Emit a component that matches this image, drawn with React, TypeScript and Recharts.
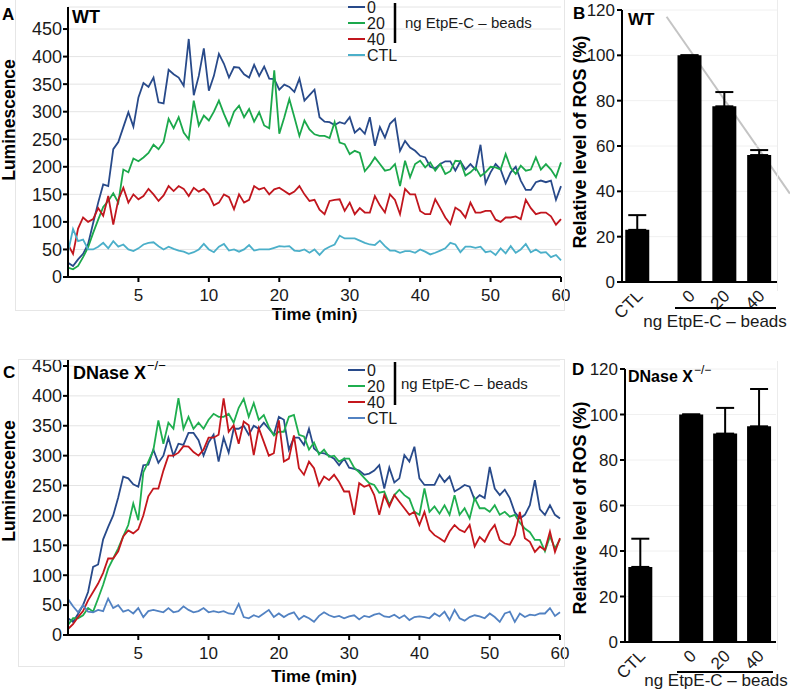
import React from 'react';
import {
  LineChart, Line, XAxis, YAxis, CartesianGrid,
  BarChart, Bar, ErrorBar, ReferenceLine, Label,
} from 'recharts';

// x axis: equal-width segments, each labelled by its end time (min)
const timeLabels = ['5', '10', '20', '30', '40', '50', '60'];
const stepsPerTick = 14;
const lumTicks = [0, 50, 100, 150, 200, 250, 300, 350, 400, 450];
const rosTicks = [0, 20, 40, 60, 80, 100, 120];
const seriesNames = ['0', '20', '40', 'CTL'];
const beadCats = ['CTL', '0', '20', '40'];

// A: WT luminescence
const wtZero = [
  26, 20, 32, 42, 60, 98, 135, 168, 165, 232, 245, 272, 299, 273, 326,
  352, 345, 362, 317, 315, 376, 368, 362, 347, 432, 330, 365, 415, 338,
  365, 405, 387, 362, 381, 380, 368, 362, 385, 365, 382, 360, 359, 340,
  349, 345, 336, 360, 320, 330, 340, 290, 282, 281, 276, 281, 278, 290,
  262, 270, 260, 290, 238, 272, 253, 278, 287, 229, 247, 235, 229, 220,
  217, 200, 197, 205, 210, 210, 193, 210, 195, 205, 195, 240, 170, 190,
  205, 195, 170, 190, 200, 175, 158, 158, 172, 175, 172, 175, 140, 165,
];
const wtTwenty = [
  17, 14, 20, 36, 54, 80, 104, 127, 138, 152, 135, 195, 190, 215, 210,
  217, 225, 240, 232, 245, 287, 270, 290, 262, 250, 320, 275, 293, 284,
  300, 320, 296, 275, 300, 311, 290, 305, 282, 299, 275, 270, 375, 260,
  290, 323, 290, 256, 284, 268, 259, 256, 256, 252, 281, 244, 241, 223,
  229, 225, 192, 203, 217, 205, 193, 195, 205, 165, 211, 181, 205, 211,
  199, 208, 193, 205, 187, 192, 211, 210, 184, 190, 199, 183, 190, 200,
  199, 195, 223, 198, 187, 202, 193, 195, 217, 195, 205, 195, 181, 208,
];
const wtForty = [
  59, 42, 88, 108, 100, 105, 125, 111, 147, 95, 140, 162, 135, 150, 141,
  147, 160, 150, 138, 148, 165, 156, 165, 160, 147, 162, 155, 160, 150,
  130, 135, 150, 145, 123, 150, 135, 140, 165, 159, 162, 150, 159, 162,
  156, 150, 155, 165, 150, 138, 140, 122, 114, 138, 140, 141, 120, 135,
  114, 125, 117, 117, 147, 130, 117, 150, 140, 114, 160, 150, 150, 120,
  114, 114, 141, 125, 108, 96, 126, 120, 108, 135, 117, 117, 120, 120,
  104, 100, 108, 108, 110, 105, 140, 125, 114, 117, 117, 110, 95, 105,
];
const wtCtl = [
  45, 87, 65, 68, 50, 50, 55, 62, 52, 65, 55, 59, 50, 47, 52,
  59, 62, 63, 56, 50, 55, 51, 48, 46, 42, 45, 50, 60, 50,
  45, 55, 60, 48, 50, 46, 50, 58, 48, 50, 50, 50, 53, 56,
  55, 56, 48, 47, 50, 44, 50, 40, 50, 55, 59, 75, 70, 70,
  70, 66, 62, 59, 58, 66, 56, 48, 48, 44, 47, 47, 44, 50,
  46, 41, 44, 48, 52, 62, 59, 45, 55, 55, 53, 55, 45, 47,
  40, 52, 43, 56, 44, 50, 60, 45, 50, 44, 45, 36, 40, 30,
];

// C: DNase X-/- luminescence
const koZero = [
  28, 22, 35, 50, 72, 114, 118, 160, 181, 200, 230, 265, 262, 252, 248, 284, 285, 310, 288, 300, 330, 300, 320, 318, 338, 338, 326, 300, 322, 335, 290, 330, 305,
  345, 345, 350, 335, 350, 345, 355, 345, 335, 365, 360, 310, 330, 330, 318, 345, 312, 305, 304, 300, 295, 284, 295, 280, 278, 275, 268, 270, 275, 284, 245, 280, 255,
  262, 301, 290, 315, 262, 251, 251, 251, 268, 256, 265, 240, 245, 251, 248, 226, 234, 229, 281, 245, 234, 243, 229, 205, 195, 201, 217, 259, 210, 201, 217, 201, 195,
];
const koTwenty = [
  17, 28, 28, 33, 45, 39, 61, 84, 111, 128, 145, 165, 184, 220, 192, 272, 290, 309, 359, 320, 355, 345, 396, 345, 365, 345, 355, 345, 360, 370, 365, 365, 370,
  355, 380, 395, 365, 388, 360, 368, 348, 334, 340, 340, 365, 368, 335, 332, 310, 322, 302, 310, 298, 300, 290, 295, 295, 280, 272, 263, 254, 251, 238, 240, 218, 234,
  243, 234, 228, 206, 201, 245, 206, 215, 203, 217, 201, 234, 201, 212, 195, 229, 212, 212, 206, 217, 201, 206, 198, 201, 188, 178, 172, 159, 159, 140, 165, 145, 160,
];
const koForty = [
  10, 18, 30, 40, 58, 72, 86, 104, 128, 128, 140, 165, 175, 170, 177, 200, 232, 245, 245, 275, 300, 300, 305, 316, 315, 306, 300, 310, 330, 330, 335, 396, 340,
  351, 320, 357, 351, 301, 346, 323, 300, 304, 359, 290, 295, 334, 279, 268, 290, 279, 250, 265, 259, 268, 256, 240, 240, 201, 254, 248, 251, 234, 201, 234, 215, 234,
  223, 212, 201, 206, 184, 206, 176, 167, 162, 156, 173, 184, 176, 172, 184, 148, 164, 156, 173, 184, 159, 153, 151, 167, 206, 162, 156, 139, 148, 142, 173, 139, 162,
];
const koCtl = [
  60, 48, 38, 50, 39, 38, 42, 40, 61, 45, 50, 39, 42, 36, 45, 30, 40, 42, 40, 38, 45, 38, 40, 48, 42, 38, 40, 45, 38, 40, 38, 40, 36,
  35, 52, 30, 28, 33, 30, 36, 42, 30, 36, 30, 35, 38, 26, 32, 28, 22, 32, 38, 33, 30, 32, 28, 31, 33, 26, 32, 30, 34, 36, 31, 30, 34,
  28, 33, 25, 30, 31, 30, 28, 36, 31, 39, 25, 42, 28, 24, 30, 33, 31, 28, 36, 30, 22, 36, 39, 22, 36, 30, 34, 33, 36, 36, 45, 32, 38,
];

// B and D: relative ROS (%), mean and upper error
const wtRos = [23, 100, 77.5, 56];
const wtRosErr = [6.5, 0, 6.3, 2.2];
const koRos = [33, 100, 91.6, 94.8];
const koRosErr = [12.4, 0, 11.3, 16.4];
const wtTrend = [{ x: 0.83, y: 117 }, { x: 4.37, y: 39 }];

const FONT = '"Liberation Sans", Arial, Helvetica, sans-serif';
const INK = '#1a1a1a';
const wtColors = ['#284a8a', '#1ba84b', '#c1161e', '#4bafc9'];
const koColors = ['#284a8a', '#1fae4f', '#c4161c', '#5282c2'];

const timeTicks = timeLabels.map((_, k) => (k + 1) * stepsPerTick);

const buildLine = (zero: number[], twenty: number[], forty: number[], ctl: number[]) =>
  zero.map((v, i) => ({ t: i, s0: v, s1: twenty[i], s2: forty[i], s3: ctl[i] }));

const wtLine = buildLine(wtZero, wtTwenty, wtForty, wtCtl);
const koLine = buildLine(koZero, koTwenty, koForty, koCtl);

const buildBars = (vals: number[], errs: number[]) =>
  beadCats.map((c, i) => ({ name: c, slot: i === 0 ? 0 : i + 0.5, value: vals[i], err: [0, errs[i]] }));

const wtBars = buildBars(wtRos, wtRosErr);
const koBars = buildBars(koRos, koRosErr);
const barSlots = wtBars.map((d) => d.slot);

const axisStyle = { stroke: '#000', strokeWidth: 2 };

function TimeChart({ data, colors, height, top, yMax, labelOffset, bottom }: any) {
  return (
    <LineChart width={570} height={height} data={data} margin={{ top, right: top === 7 ? 9 : 10, left: 28, bottom }}>
      <CartesianGrid vertical={false} stroke="#e4e4e4" />
      <XAxis
        type="number" dataKey="t" domain={[0, timeTicks[timeTicks.length - 1]]} ticks={timeTicks}
        tickFormatter={(v: number) => timeLabels[v / stepsPerTick - 1]}
        height={48} axisLine={axisStyle} tickLine={axisStyle} tickSize={5} tickMargin={7}
        tick={{ fill: INK, fontSize: 17 }}
      >
        <Label value="Time (min)" position="insideBottom" offset={labelOffset} fill="#000" fontSize={17} fontWeight="bold" />
      </XAxis>
      <YAxis
        type="number" domain={[0, yMax]} ticks={lumTicks} width={40} interval={0}
        axisLine={axisStyle} tickLine={axisStyle} tickSize={5} tickMargin={1}
        tick={{ fill: INK, fontSize: 18 }}
      />
      {['s0', 's1', 's2', 's3'].map((k, i) => (
        <Line key={k} type="linear" dataKey={k} stroke={colors[i]} strokeWidth={1.8} dot={false} isAnimationActive={false} />
      ))}
    </LineChart>
  );
}

function SlantTick(props: any) {
  const { x, y, payload } = props;
  const item = wtBars.find((d) => d.slot === payload.value);
  const ax = x + 6;
  const ay = y + 15;
  return (
    <text x={ax} y={ay} transform={`rotate(-45 ${ax} ${ay})`} textAnchor="end" fontSize={17} fill={INK} fontFamily={FONT}>
      {item ? item.name : ''}
    </text>
  );
}

// layer "trend" draws only the grey trend line (placed beneath), layer "main" draws the bars and axes
function RosChart({ data, height, top, left, right, trend, layer }: any) {
  const under = layer === 'trend';
  return (
    <BarChart width={230} height={height} data={data} margin={{ top, right, left, bottom: 0 }}>
      {!under && <CartesianGrid vertical={false} stroke="#f0f0f0" />}
      <XAxis
        type="number" dataKey="slot" domain={[-0.45, 4]} ticks={barSlots} interval={0}
        height={40} axisLine={under ? false : axisStyle} tickLine={false} tickSize={0} tickMargin={0}
        tick={under ? false : <SlantTick />}
      />
      <YAxis
        type="number" domain={[0, 120]} ticks={rosTicks} width={40} interval={0}
        axisLine={under ? false : axisStyle} tickLine={under ? false : axisStyle} tickSize={5} tickMargin={2}
        tick={under ? false : { fill: INK, fontSize: 17 }}
      />
      <Bar dataKey="value" fill={under ? 'none' : '#000'} barSize={24} isAnimationActive={false}>
        {!under && <ErrorBar dataKey="err" width={9} stroke="#000" strokeWidth={2} direction="y" />}
      </Bar>
      {under && trend && (
        <ReferenceLine segment={trend} stroke="#c4c4c4" strokeWidth={2} ifOverflow="visible" />
      )}
    </BarChart>
  );
}

function Legend({ y0, textX, barTop, barBottom, noteY, colors }: any) {
  return (
    <g>
      {seriesNames.map((n, i) => {
        const y = y0 + i * 16;
        return (
          <g key={n}>
            <line x1={348} x2={365} y1={y} y2={y} stroke={colors[i]} strokeWidth={2} />
            <text x={367} y={y + 5.7} fontSize={16} fill={INK}>{n}</text>
          </g>
        );
      })}
      <line x1={395} x2={395} y1={barTop} y2={barBottom} stroke="#000" strokeWidth={2.5} />
      <text x={textX} y={noteY} fontSize={15} fill={INK}>ng EtpE-C – beads</text>
    </g>
  );
}

const abs = (left: number, top: number) => ({ position: 'absolute' as const, left, top });

export default function App() {
  return (
    <div style={{ position: 'fixed', left: 0, top: 0, width: 790, height: 694, background: '#fff', overflow: 'hidden', fontFamily: FONT }}>
      <div style={abs(0, 0)}>
        <TimeChart data={wtLine} colors={wtColors} height={325} top={7} yMax={490} labelOffset={5} bottom={0} />
      </div>
      <div style={abs(0, 340)}>
        <TimeChart data={koLine} colors={koColors} height={352} top={20} yMax={460} labelOffset={1} bottom={9} />
      </div>
      <div style={abs(560, 0)}>
        <RosChart data={wtBars} height={322} top={10} left={22} right={13} trend={wtTrend} layer="trend" />
      </div>
      <div style={abs(560, 0)}>
        <RosChart data={wtBars} height={322} top={10} left={22} right={13} layer="main" />
      </div>
      <div style={abs(560, 340)}>
        <RosChart data={koBars} height={342} top={29} left={25} right={14} layer="main" />
      </div>
      <svg width={790} height={694} style={{ position: 'absolute', left: 0, top: 0, pointerEvents: 'none', fontFamily: FONT }}>
        {/* faint panel frames */}
        <rect x={15.5} y={-0.5} width={549} height={311} fill="none" stroke="#e6e6e6" />
        <rect x={18.5} y={359.5} width={546} height={307} fill="none" stroke="#e6e6e6" />
        <line x1={777.5} x2={777.5} y1={0} y2={291} stroke="#ececec" />
        <line x1={777.5} x2={777.5} y1={361} y2={650} stroke="#ececec" />

        {/* panel letters */}
        <text x={2} y={20} fontSize={17} fontWeight="bold">A</text>
        <text x={573} y={19} fontSize={17} fontWeight="bold">B</text>
        <text x={3} y={378} fontSize={17} fontWeight="bold">C</text>
        <text x={572} y={375} fontSize={17} fontWeight="bold">D</text>

        {/* strain titles */}
        <text x={72} y={23} fontSize={18} fontWeight="bold">WT</text>
        <text x={628} y={25} fontSize={17} fontWeight="bold">WT</text>
        <text x={73} y={379} fontSize={18} fontWeight="bold">DNase X</text>
        <text x={147} y={370} fontSize={13}>−/−</text>
        <text x={628} y={382} fontSize={16} fontWeight="bold">DNase X</text>
        <text x={694} y={374} fontSize={12}>−/−</text>

        {/* y axis titles */}
        <text transform="translate(15 120) rotate(-90)" textAnchor="middle" fontSize={17.5} fontWeight="bold">Luminescence</text>
        <text transform="translate(15 481) rotate(-90)" textAnchor="middle" fontSize={17.5} fontWeight="bold">Luminescence</text>
        <text transform="translate(586 142) rotate(-90)" textAnchor="middle" fontSize={18} fontWeight="bold">Relative level of ROS (%)</text>
        <text transform="translate(586 508) rotate(-90)" textAnchor="middle" fontSize={18} fontWeight="bold">Relative level of ROS (%)</text>

        {/* legends */}
        <Legend y0={7} textX={405} barTop={3} barBottom={43} noteY={28} colors={wtColors} />
        <Legend y0={370} textX={401} barTop={362} barBottom={405} noteY={389} colors={koColors} />

        {/* bead group brackets under bar charts */}
        <line x1={675} x2={776} y1={308} y2={308} stroke="#000" strokeWidth={2} />
        <text x={715} y={327} textAnchor="middle" fontSize={17} fill={INK}>ng EtpE-C – beads</text>
        <line x1={677} x2={773} y1={672} y2={672} stroke="#000" strokeWidth={2} />
        <text x={716} y={686} textAnchor="middle" fontSize={17} fill={INK}>ng EtpE-C – beads</text>
      </svg>
    </div>
  );
}
